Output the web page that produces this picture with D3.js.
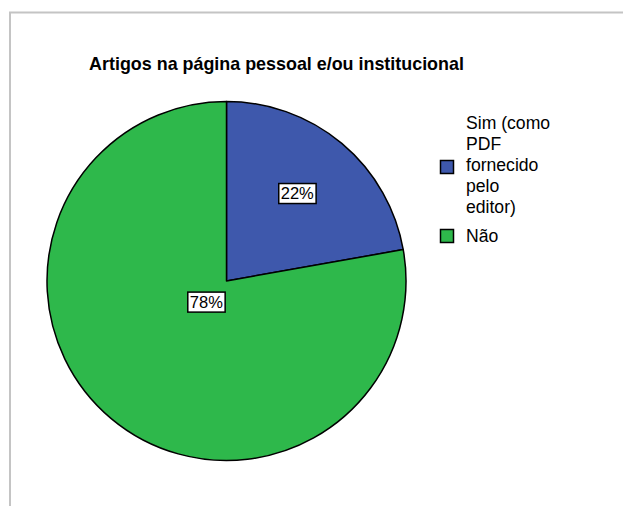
<!DOCTYPE html>
<html><head><meta charset="utf-8">
<script src="https://cdn.jsdelivr.net/npm/d3@7"></script>
<style>body{margin:0;background:#fff}svg{display:block}text{font-family:"Liberation Sans",Arial,sans-serif}</style>
</head><body>
<script>
const categories = ["Sim (como PDF fornecido pelo editor)", "Não"];
const values = [22.2, 77.8];
const labels = ["22%", "78%"];
const legendLines = [["Sim (como", "PDF", "fornecido", "pelo", "editor)"], ["Não"]];
const colors = ["#3e58ac", "#2eb84b"];
const title = "Artigos na página pessoal e/ou institucional";

const W = 623, H = 506;
const svg = d3.select("body").append("svg").attr("width", W).attr("height", H);

// frame
svg.append("path").attr("d", `M10,${H} V12.5 H${W}`).attr("fill","none").attr("stroke","#c4c4c4").attr("stroke-width",2);

svg.append("text").attr("x", 276.5).attr("y", 70).attr("text-anchor","middle")
  .attr("font-weight","bold").attr("font-size", 17.9).attr("fill","#000").text(title);

const cx = 226.5, cy = 281, r = 179.5;
const pie = d3.pie().sort(null).value(d => d)(values);
const arc = d3.arc().innerRadius(0).outerRadius(r);
const g = svg.append("g").attr("transform", `translate(${cx},${cy})`);
g.selectAll("path").data(pie).join("path")
  .attr("d", arc).attr("fill", (d,i) => colors[i])
  .attr("stroke","#000").attr("stroke-width",1.5).attr("stroke-linejoin","round");

// labels near the geometric centroid of each sector
pie.forEach((d,i) => {
  const half = (d.endAngle - d.startAngle) / 2;
  const mid = (d.startAngle + d.endAngle) / 2;
  const dist = 4 * r * Math.sin(half) / (3 * 2 * half);
  const x = dist * Math.sin(mid), y = -dist * Math.cos(mid) - 3;
  const lg = g.append("g").attr("transform", `translate(${x},${y})`);
  const t = lg.append("text").attr("text-anchor","middle").attr("dy","0.36em")
    .attr("font-size",16.5).attr("fill","#000").text(labels[i]);
  const bb = t.node().getBBox();
  lg.insert("rect","text").attr("x", bb.x-2).attr("y", -10).attr("width", bb.width+4).attr("height", 20)
    .attr("fill","#fff").attr("stroke","#000").attr("stroke-width",1.5);
});

// legend
const lx = 440, textX = 466, lineH = 21;
const leg = [{y0: 129, sq: 160}, {y0: 242, sq: 229}];
legendLines.forEach((lines,i) => {
  svg.append("rect").attr("x", lx+0.5).attr("y", leg[i].sq+0.5).attr("width", 13).attr("height", 13)
    .attr("fill", colors[i]).attr("stroke","#000").attr("stroke-width",1.5);
  lines.forEach((ln,j) => {
    svg.append("text").attr("x", textX).attr("y", leg[i].y0 + j*lineH)
      .attr("font-size",17.6).attr("fill","#000").text(ln);
  });
});
</script>
</body></html>
